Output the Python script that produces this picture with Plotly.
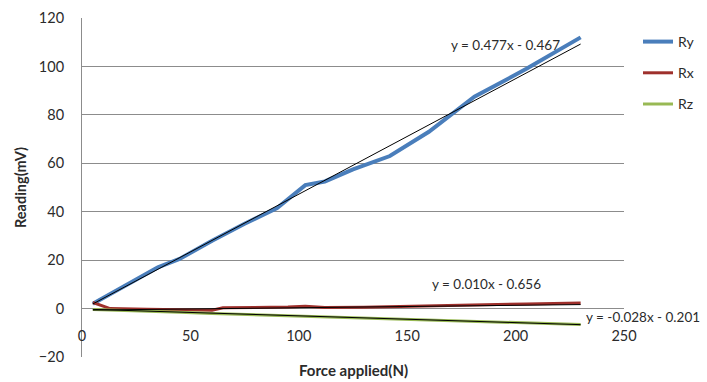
import plotly.graph_objects as go

# Load readings (mV) against applied force (N)
force_ry = [5, 35, 45, 60, 75, 90, 103, 112, 125, 142, 160, 181, 205, 230]
ry = [2.0, 17.0, 20.5, 28.0, 35.0, 41.5, 51.0, 52.5, 57.5, 63.0, 73.0, 87.5, 99.0, 112.0]

force_rx = [5, 13, 30, 45, 60, 65, 80, 95, 103, 112, 130, 150, 180, 205, 230]
rx = [2.5, 0.0, -0.3, -0.6, -0.7, 0.3, 0.3, 0.6, 1.0, 0.4, 0.5, 1.0, 1.5, 1.9, 2.3]

force_rz = [5, 15, 30, 45, 60, 75, 90, 105, 120, 140, 160, 180, 205, 230]
rz = [-0.4, -0.6, -1.0, -1.5, -2.0, -2.4, -2.7, -3.2, -3.6, -4.2, -4.7, -5.2, -5.9, -6.6]

# Linear trendline coefficients (slope, intercept)
trend_names = ["Ry", "Rx", "Rz"]
trend_slope = [0.477, 0.010, -0.028]
trend_intercept = [-0.467, -0.656, -0.201]
trend_span = [5, 230]

x_ticks = [0, 50, 100, 150, 200, 250]
y_ticks = [-20, 0, 20, 40, 60, 80, 100, 120]

FONT = "Lato, 'Open Sans', sans-serif"
TXT = "#2b2b2b"

fig = go.Figure()

fig.add_trace(go.Scatter(x=force_ry, y=ry, name="Ry", mode="lines",
                         line=dict(color="#4a7ebb", width=4)))
fig.add_trace(go.Scatter(x=force_rx, y=rx, name="Rx", mode="lines",
                         line=dict(color="#9e302c", width=3)))
fig.add_trace(go.Scatter(x=force_rz, y=rz, name="Rz", mode="lines",
                         line=dict(color="#98b954", width=3)))

for name, m, c in zip(trend_names, trend_slope, trend_intercept):
    fig.add_trace(go.Scatter(
        x=trend_span, y=[m * v + c for v in trend_span], mode="lines",
        line=dict(color="black", width=1), showlegend=False, hoverinfo="skip",
        name=f"{name} trend"))

# Trendline equations
def eq_text(m, c):
    sign = "-" if c < 0 else "+"
    return f"y = {m:.3f}x {sign} {abs(c):.3f}"

eq_pos = [(505, 45), (486, 284), (643, 317)]
for (px, py), m, c in zip(eq_pos, trend_slope, trend_intercept):
    fig.add_annotation(text=eq_text(m, c), xref="paper", yref="paper",
                       x=(px - 82) / 542, y=1 - (py - 18) / 339,
                       showarrow=False, xanchor="center", yanchor="middle",
                       font=dict(family=FONT, size=13.5, color=TXT))

fig.add_annotation(text="<b>Reading(mV)</b>", xref="paper", yref="paper",
                   x=(20 - 82) / 542, y=1 - (188 - 18) / 339, textangle=-90,
                   showarrow=False, xanchor="center", yanchor="middle",
                   font=dict(family=FONT, size=14.5, color=TXT))
fig.add_annotation(text="<b>Force applied(N)</b>", xref="paper", yref="paper",
                   x=(353 - 82) / 542, y=1 - (370 - 18) / 339,
                   showarrow=False, xanchor="center", yanchor="middle",
                   font=dict(family=FONT, size=15, color=TXT))

fig.update_layout(
    width=707, height=382,
    margin=dict(l=82, r=83, t=18, b=25, autoexpand=False),
    paper_bgcolor="white", plot_bgcolor="white",
    font=dict(family=FONT, size=14, color=TXT),
    showlegend=True,
    legend=dict(xref="container", yref="container",
                x=638 / 707, y=1 - 26 / 382, xanchor="left", yanchor="top",
                font=dict(family=FONT, size=14, color=TXT),
                tracegroupgap=10, itemwidth=30, bgcolor="rgba(0,0,0,0)"),
    xaxis=dict(range=[0, 250], tickvals=x_ticks, showgrid=False, zeroline=False,
               showline=False, anchor="free", position=20 / 140,
               ticks="", ticklabelstandoff=17,
               tickfont=dict(family=FONT, size=14.5, color=TXT)),
    yaxis=dict(range=[-20, 120], tickvals=y_ticks, showgrid=True,
               gridcolor="#8c8c8c", gridwidth=1, zeroline=False,
               showline=True, linecolor="#8c8c8c", linewidth=1,
               ticks="", ticklabelstandoff=14,
               tickfont=dict(family=FONT, size=14.5, color=TXT)),
)
for i, d in enumerate(fig.data[:3]):
    d.legendgroup = f"g{i}"

fig.write_html("out.html")
